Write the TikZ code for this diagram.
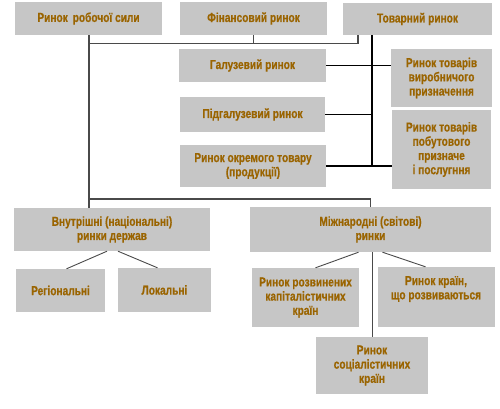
\documentclass[tikz,border=0pt]{standalone}
\usepackage{fontspec}
\setmainfont{Liberation Sans}[FakeStretch=0.78, BoldFeatures={FakeBold=0.6}]
\usetikzlibrary{calc}
\definecolor{boxgray}{HTML}{C6C6C6}
\definecolor{txtbrown}{HTML}{9A6400}
\definecolor{linegray}{HTML}{4A4A4A}
\tikzset{
  box/.style={fill=boxgray, draw=none, inner sep=0pt, text=txtbrown,
    font=\bfseries\fontsize{13}{14.2}\selectfont, align=center},
  frameline/.style={draw=linegray, line width=1.1pt},
  blackline/.style={draw=black, line width=1.1pt},
  subline/.style={draw=linegray, line width=0.9pt},
}
\newcommand{\bx}[6]{%
  \pgfmathsetmacro{\bw}{#4-#2}\pgfmathsetmacro{\bh}{#5-#3}%
  \pgfmathsetmacro{\cx}{(#2+#4)/2}\pgfmathsetmacro{\cy}{(#3+#5)/2}%
  \node[box, minimum width=\bw pt, minimum height=\bh pt] (#1) at (\cx,\cy) {#6};}
\begin{document}
\begin{tikzpicture}[x=1pt,y=-1pt]
\useasboundingbox[fill=white] (0,0) rectangle (500,408);
% top row
\bx{rob}{15}{2}{162}{35}{Ринок\, робочої сили}
\bx{fin}{180}{2}{327}{35}{Фінансовий ринок}
\bx{tov}{343}{3}{492}{35}{Товарний ринок}
% middle
\bx{gal}{179}{49}{326}{82}{Галузевий ринок}
\bx{vyr}{391}{49}{492}{107}{Ринок товарів\\виробничого\\призначення}
\bx{pid}{180}{97}{325}{132}{Підгалузевий ринок}
\bx{okr}{180}{145}{326}{187}{Ринок окремого товару\\(продукції)}
\bx{pob}{392}{110}{491}{189}{Ринок товарів\\побутового\\призначе\\і послугння}
% lower
\bx{vn}{14}{208}{210}{251}{Внутрішні (національні)\\ринки держав}
\bx{reg}{16}{269}{105}{312}{Регіональні}
\bx{lok}{118}{268}{211}{312}{Локальні}
\bx{mizh}{250}{207}{491}{252}{Міжнародні (світові)\\ринки}
\bx{razv}{252}{268}{359}{327}{Ринок розвинених\\капіталістичних\\країн}
\bx{kr}{378}{267}{495}{327}{}
\node[box, fill=none] (krt) at (436,289) {Ринок країн,\\що розвиваються};
\bx{soc}{316}{337}{428}{394}{Ринок\\соціалістичних\\країн}
% coordinates
\coordinate (h1) at (89,43.5);
\coordinate (t1) at (358,35);
\coordinate (sp) at (372,35);
\coordinate (hb) at (89,199);
% top frame lines
\draw[frameline] (rob.south -| h1) -- (vn.north -| h1);
\draw[frameline] (h1) -- (h1 -| t1) -- (t1);
\draw[frameline] (fin.south) -- (fin.south |- h1);
\draw[frameline] (hb) -- (hb -| mizh.north) -- (mizh.north);
% товарний tree
\draw[blackline] (sp) -- (sp |- okr.east);
\draw[blackline] (gal.east) -- (vyr.west |- gal.east);
\draw[blackline] (pid.east) -- (pid.east -| sp);
\draw[blackline] (okr.east) -- (pob.west |- okr.east);
% sub lines
\draw[subline] ($(vn.south)+(-5,0)$) -- ($(reg.north)+(6,0)$);
\draw[subline] ($(vn.south)+(6,0)$) -- ($(lok.north)+(-7,0)$);
\draw[subline] ($(mizh.south)+(-12,0)$) -- ($(razv.north)+(10,0)$);
\draw[subline] ($(mizh.south)+(12,0)$) -- ($(kr.north)+(-11,0)$);
\draw[subline] (soc.north |- mizh.south) -- (soc.north);
\end{tikzpicture}
\end{document}
